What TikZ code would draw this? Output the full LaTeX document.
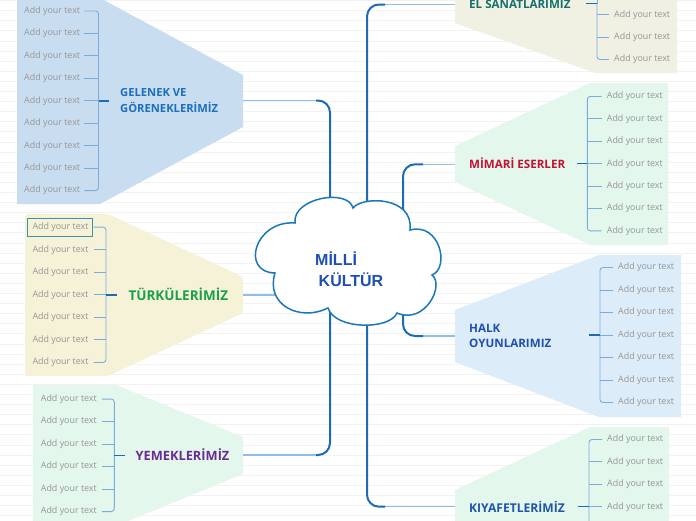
\documentclass[tikz,border=0pt]{standalone}
\usepackage{fontspec}
\setmainfont{Open Sans}
\newfontfamily\cloudfont{Liberation Sans}
\usetikzlibrary{calc}
\definecolor{bgline}{HTML}{F2F2F2}
\definecolor{gelfill}{HTML}{C9DDF0}
\definecolor{elfill}{HTML}{F0F0E3}
\definecolor{grnfill}{HTML}{E3F7EC}
\definecolor{halkfill}{HTML}{DCEDF9}
\definecolor{turfill}{HTML}{F5F2D8}
\definecolor{itemgray}{HTML}{969696}
\definecolor{brkblue}{HTML}{7AADDC}
\definecolor{darkblue}{HTML}{1C6BB5}
\definecolor{lightlink}{HTML}{92BDE5}
\definecolor{gelblue}{HTML}{1B6FBC}
\definecolor{elteal}{HTML}{16706D}
\definecolor{mimred}{HTML}{C41232}
\definecolor{halkblue}{HTML}{1F4FAE}
\definecolor{kiyblue}{HTML}{1F55A8}
\definecolor{turgreen}{HTML}{19A04A}
\definecolor{yempurple}{HTML}{6B2B92}
\definecolor{cloudtext}{HTML}{1D4FB5}
\definecolor{cloudline}{HTML}{1A78B8}
\definecolor{selbox}{HTML}{3F8FB5}
\tikzset{
  item/.style={font=\fontsize{8.9}{10}\selectfont, text=itemgray, inner sep=0pt, anchor=west},
  ttl/.style={inner sep=0pt, anchor=west, align=left},
  brk/.style={draw=brkblue, line width=0.9pt},
  brkr/.style={draw=brkblue, line width=0.9pt, rounded corners=3pt},
  stub/.style={draw=darkblue, line width=1.4pt},
  thinlink/.style={draw=lightlink, line width=1.1pt},
  thicklink/.style={draw=darkblue, line width=2pt, rounded corners=12pt},
  bgrule/.style={draw=bgline, line width=0.8pt},
}
\begin{document}
\begin{tikzpicture}[x=1pt,y=-1pt]
\useasboundingbox (0,0) rectangle (696,520);
\clip (0,0) rectangle (696,520);
\fill[white] (0,0) rectangle (696,520);
\foreach \k in {0,...,51} \draw[bgrule] (0,{0.5+10.1*\k}) -- (696,{0.5+10.1*\k});

% panels
\fill[gelfill] (17,-2) -- (100,-2) -- (243,75) -- (243,127) -- (100,204) -- (17,204) -- cycle;
\fill[elfill] (455,-10) -- (455,23) -- (595,73) -- (677,73) -- (677,-10) -- cycle;
\fill[grnfill] (455,146) -- (590,83) -- (668,83) -- (668,245) -- (590,245) -- (455,182) -- cycle;
\fill[halkfill] (455,310) -- (599,255) -- (681,255) -- (681,417) -- (599,417) -- (455,362) -- cycle;
\fill[grnfill] (455,490) -- (590,427) -- (669,427) -- (669,530) -- (455,530) -- cycle;
\fill[turfill, rounded corners=3pt] (25,214) -- (108,214) -- (243,277) -- (243,313) -- (108,376) -- (25,376) -- cycle;
\fill[grnfill] (33,385) -- (116,385) -- (243,437) -- (243,474) -- (116,526) -- (33,526) -- cycle;

% helper coordinates
\coordinate (cc) at (349,265);
\coordinate (vl) at (330,0);
\coordinate (vm) at (367,0);
\coordinate (vr) at (403,0);

% ---------- GELENEK ----------
\foreach \i in {1,...,9} \node[item] (gel-\i) at (24,{100.8+22.45*(\i-5)}) {Add your text};
\coordinate (gel-b) at (98.5,100.8);
\draw[brkr] ([xshift=4pt]gel-1.east) -- (gel-b |- gel-1) -- (gel-b |- gel-9) -- ([xshift=4pt]gel-9.east);
\foreach \i in {2,...,8} \draw[brk] ([xshift=4pt]gel-\i.east) -- (gel-b |- gel-\i);
\draw[stub] (gel-b) -- ++(10,0);
\node[ttl, text=gelblue, font=\fontsize{11.2}{16}\selectfont\bfseries] (gel-t) at (120,100.5) {GELENEK VE\\GÖRENEKLERİMİZ};
\coordinate (gel-out) at (243,100.5);

% ---------- EL SANATLARIMIZ ----------
\foreach \i in {1,...,3} \node[item] (el-\i) at (614,{14.7+22.4*(\i-1)}) {Add your text};
\coordinate (el-b) at (597,3.5);
\coordinate (el-top) at (597,-12);
\draw[brk] (el-top) -- (el-b);
\draw[brkr] (el-b) -- (el-b |- el-3) -- ([xshift=-5pt]el-3.west);
\foreach \i in {1,2} \draw[brk] (el-b |- el-\i) -- ([xshift=-5pt]el-\i.west);
\draw[stub] (el-b) -- ++(-11,0);
\node[ttl, text=elteal, font=\fontsize{11.6}{14}\selectfont\bfseries] (el-t) at (469,4) {EL SANATLARIMIZ};
\coordinate (el-out) at (455,4.5);

% ---------- MIMARI ----------
\foreach \i in {1,...,7} \node[item] (mim-\i) at (606.7,{163.7+22.4*(\i-4)}) {Add your text};
\coordinate (mim-b) at (587.3,163.7);
\draw[brkr] ([xshift=-5pt]mim-1.west) -- (mim-b |- mim-1) -- (mim-b |- mim-7) -- ([xshift=-5pt]mim-7.west);
\foreach \i in {2,...,6} \draw[brk] (mim-b |- mim-\i) -- ([xshift=-5pt]mim-\i.west);
\draw[stub] (mim-b) -- ++(-10.5,0);
\node[ttl, text=mimred, font=\fontsize{11.6}{14}\selectfont\bfseries] (mim-t) at (469,163.5) {MİMARİ ESERLER};
\coordinate (mim-out) at (455,164.3);

% ---------- HALK ----------
\foreach \i in {1,...,7} \node[item] (halk-\i) at (618,{335+22.5*(\i-4)}) {Add your text};
\coordinate (halk-b) at (600,335);
\draw[brkr] ([xshift=-5pt]halk-1.west) -- (halk-b |- halk-1) -- (halk-b |- halk-7) -- ([xshift=-5pt]halk-7.west);
\foreach \i in {2,...,6} \draw[brk] (halk-b |- halk-\i) -- ([xshift=-5pt]halk-\i.west);
\draw[stub] (halk-b) -- ++(-11,0);
\node[ttl, text=halkblue, font=\fontsize{11.6}{15}\selectfont\bfseries] (halk-t) at (469,335.5) {HALK\\OYUNLARIMIZ};
\coordinate (halk-out) at (455,336);

% ---------- KIYAFET ----------
\foreach \i in {1,...,4} \node[item] (kiy-\i) at (607,{506.7+22.4*(\i-4)}) {Add your text};
\coordinate (kiy-b) at (589,506.7);
\coordinate (kiy-bot) at (589,530);
\draw[brkr] ([xshift=-5pt]kiy-1.west) -- (kiy-b |- kiy-1) -- (kiy-bot);
\foreach \i in {2,...,4} \draw[brk] (kiy-b |- kiy-\i) -- ([xshift=-5pt]kiy-\i.west);
\draw[stub] (kiy-b) -- ++(-11,0);
\node[ttl, text=kiyblue, font=\fontsize{12.1}{14}\selectfont\bfseries] (kiy-t) at (469,507) {KIYAFETLERİMİZ};
\coordinate (kiy-out) at (455,506.7);

% ---------- TURKU ----------
\foreach \i in {1,...,7} \node[item] (tur-\i) at (32.3,{294.8+22.55*(\i-4)}) {Add your text};
\coordinate (tur-b) at (106,294.8);
\draw[brkr] ([xshift=5pt]tur-1.east) -- (tur-b |- tur-1) -- (tur-b |- tur-7) -- ([xshift=5pt]tur-7.east);
\foreach \i in {2,...,6} \draw[brk] ([xshift=5pt]tur-\i.east) -- (tur-b |- tur-\i);
\draw[stub] (tur-b) -- ++(10.7,0);
\draw[selbox, line width=0.9pt] ([shift={(-5pt,8.8pt)}]tur-1.west) rectangle ([shift={(4.3pt,-8.8pt)}]tur-1.east);
\node[ttl, text=turgreen, font=\fontsize{13.5}{16}\selectfont\bfseries] (tur-t) at (128.3,294.8) {TÜRKÜLERİMİZ};
\coordinate (tur-out) at (243,295);

% ---------- YEMEK ----------
\foreach \i in {1,...,6} \node[item] (yem-\i) at (40.7,{455.3+22.5*(\i-3.5)}) {Add your text};
\coordinate (yem-b) at (114.3,455.3);
\draw[brkr] ([xshift=5pt]yem-1.east) -- (yem-b |- yem-1) -- (yem-b |- yem-6) -- ([xshift=5pt]yem-6.east);
\foreach \i in {2,...,5} \draw[brk] ([xshift=5pt]yem-\i.east) -- (yem-b |- yem-\i);
\draw[stub] (yem-b) -- ++(10.7,0);
\node[ttl, text=yempurple, font=\fontsize{12.8}{15}\selectfont\bfseries] (yem-t) at (135.5,455) {YEMEKLERİMİZ};
\coordinate (yem-out) at (243,455);

% ---------- connectors to the cloud ----------
\draw[thinlink] (gel-out) -- ($(vl |- gel-out)+(-14,0)$);
\draw[thicklink] ($(vl |- gel-out)+(-14,0)$) -- (vl |- gel-out) -- (vl |- cc);
\draw[thinlink] (yem-out) -- ($(vl |- yem-out)+(-14,0)$);
\draw[thicklink] ($(vl |- yem-out)+(-14,0)$) -- (vl |- yem-out) -- (vl |- cc);
\draw[thinlink] (el-out) -- ($(vm |- el-out)+(18,0)$);
\draw[thicklink] ($(vm |- el-out)+(18,0)$) -- (vm |- el-out) -- (vm |- cc);
\draw[thinlink] (kiy-out) -- ($(vm |- kiy-out)+(18,0)$);
\draw[thicklink] ($(vm |- kiy-out)+(18,0)$) -- (vm |- kiy-out) -- (vm |- cc);
\draw[thinlink] (mim-out) -- ($(vr |- mim-out)+(20,0)$);
\draw[thicklink] ($(vr |- mim-out)+(20,0)$) -- (vr |- mim-out) -- (vr |- cc);
\draw[thinlink] (halk-out) -- ($(vr |- halk-out)+(20,0)$);
\draw[thicklink] ($(vr |- halk-out)+(20,0)$) -- (vr |- halk-out) -- (vr |- cc);
\draw[thinlink] (tur-out) -- (tur-out -| cc);

% ---------- cloud ----------
\draw[cloudline, line width=1.5pt, fill=white]
  (295,223) .. controls (292,198) and (348,188) .. (353,208)
  .. controls (362,196) and (414,196) .. (410,230)
  .. controls (440,222) and (450,268) .. (432,275)
  .. controls (445,285) and (425,325) .. (397,313)
  .. controls (390,330) and (335,330) .. (328,308)
  .. controls (300,322) and (265,305) .. (275,273)
  .. controls (240,272) and (255,220) .. (295,223) -- cycle;
\node[inner sep=0pt, anchor=base west, text=cloudtext, font=\cloudfont\bfseries\fontsize{16}{20}\selectfont] (mk1) at (315,265) {MİLLİ};
\node[inner sep=0pt, anchor=base west, text=cloudtext, font=\cloudfont\bfseries\fontsize{16}{20}\selectfont] (mk2) at (318.5,286) {KÜLTÜR};
\end{tikzpicture}
\end{document}
